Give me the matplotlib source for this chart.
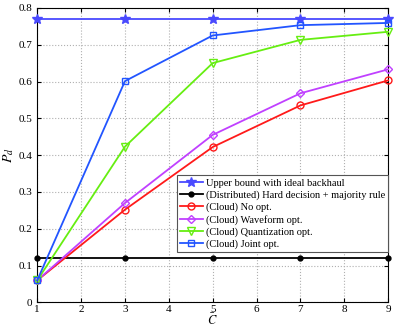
import matplotlib
matplotlib.use("Agg")
import matplotlib.pyplot as plt

C = [1, 3, 5, 7, 9]
upper = [0.77, 0.77, 0.77, 0.77, 0.77]
distributed = [0.12, 0.12, 0.12, 0.12, 0.12]
no_opt = [0.06, 0.252, 0.422, 0.535, 0.603]
waveform = [0.06, 0.27, 0.455, 0.568, 0.633]
quant = [0.06, 0.423, 0.65, 0.713, 0.735]
joint = [0.06, 0.601, 0.725, 0.753, 0.759]

plt.rcParams['font.family'] = ['Liberation Serif', 'DejaVu Serif']
plt.rcParams['mathtext.fontset'] = 'stix'

fig = plt.figure(figsize=(4.09, 3.27), dpi=100)
ax = fig.add_axes([0.091, 0.075, 0.858, 0.901])

ms = 5
kw = dict(lw=1.3, clip_on=False, zorder=3)
ax.plot(C, upper, color='#4a4aff', marker='*', ms=7, label='Upper bound with ideal backhaul', **kw)
ax.plot(C, distributed, color='black', marker='o', ms=3.5, label='(Distributed) Hard decision + majority rule', **kw)
ax.plot(C, no_opt, color='#ff1a1a', marker='o', ms=ms, mfc='none', mew=1, label='(Cloud) No opt.', **kw)
ax.plot(C, waveform, color='#c040ff', marker='D', ms=4.5, mfc='none', mew=1, label='(Cloud) Waveform opt.', **kw)
ax.plot(C, quant, color='#66ee11', marker='v', ms=ms + 1, mfc='none', mew=1, label='(Cloud) Quantization opt.', **kw)
ax.plot(C, joint, color='#2255ff', marker='s', ms=ms, mfc='none', mew=1, label='(Cloud) Joint opt.', **kw)

ax.set_xlim(1, 9)
ax.set_ylim(0, 0.8)
ax.set_xticks(range(1, 10))
ax.set_yticks([0, 0.1, 0.2, 0.3, 0.4, 0.5, 0.6, 0.7, 0.8])
ax.set_yticklabels(['0', '0.1', '0.2', '0.3', '0.4', '0.5', '0.6', '0.7', '0.8'])
ax.grid(True, linestyle=':', color='#b0b0b0', lw=0.8)
ax.tick_params(direction='in', labelsize=8, length=3, top=True, right=True)
ax.tick_params(axis='x', pad=2)
ax.set_xlabel(r'$\bar{C}$', fontsize=9, labelpad=-1)
ax.set_ylabel(r'$P_d$', fontsize=10, labelpad=2)

leg = ax.legend(loc='lower right', bbox_to_anchor=(1.0, 0.17), fontsize=7.5, frameon=True,
                fancybox=False, edgecolor='#555555', framealpha=1, borderpad=0.3,
                labelspacing=0.25, handlelength=2.2, handletextpad=0.3, borderaxespad=0)
leg.get_frame().set_linewidth(0.8)
leg.set_zorder(5)

fig.savefig('out.png', dpi=100)
